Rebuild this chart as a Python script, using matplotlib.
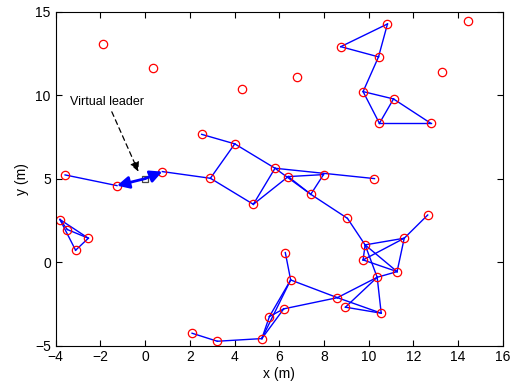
import matplotlib
matplotlib.use("Agg")
import matplotlib.pyplot as plt

plt.rcParams['font.family'] = ['Liberation Sans', 'DejaVu Sans']

# robot positions (m)
node_x = [10.84, 8.75, 10.44, 9.75, 11.11, 10.48, 12.78,
          -3.81, -3.48, -2.54, -3.11,
          -3.58, -1.26, 0.77, 2.92, 2.53, 4.01, 4.84, 5.81, 6.40, 7.98, 10.26, 7.41, 9.05,
          9.84, 9.75, 11.59, 12.64, 11.27, 10.38, 10.56, 8.60, 8.96,
          6.51, 6.27, 6.20, 5.56, 5.22, 3.23, 2.10,
          -1.90, 0.37, 4.35, 6.81, 14.42, 13.29]
node_y = [14.26, 12.90, 12.29, 10.21, 9.77, 8.31, 8.31,
          2.55, 1.95, 1.43, 0.71,
          5.22, 4.58, 5.42, 5.02, 7.65, 7.08, 3.46, 5.62, 5.12, 5.24, 5.00, 4.06, 2.62,
          1.03, 0.13, 1.43, 2.82, -0.57, -0.91, -3.06, -2.13, -2.70,
          -1.07, 0.57, -2.80, -3.26, -4.58, -4.74, -4.26,
          13.04, 11.65, 10.39, 11.07, 14.46, 11.37]

# communication links (index pairs)
edges = [(1, 0), (0, 2), (1, 2), (2, 3), (3, 4), (3, 5), (5, 4), (4, 6), (5, 6),
         (7, 9), (7, 10), (10, 9), (8, 9), (7, 8),
         (11, 12), (13, 14), (15, 16), (16, 14), (14, 17), (16, 18), (17, 18), (17, 19),
         (18, 21), (19, 20), (20, 22), (18, 22), (19, 22), (22, 23),
         (23, 24), (24, 26), (27, 26), (24, 28), (25, 26), (25, 28), (26, 28), (24, 29),
         (24, 25), (29, 28), (29, 30), (29, 31), (29, 32), (32, 30), (31, 30),
         (33, 31), (35, 31), (34, 33), (33, 36), (33, 37), (35, 37), (36, 35),
         (37, 38), (38, 39), (37, 36)]

leader = (0.0, 5.0)
leader_links = [12, 13]

fig = plt.figure(figsize=(5.11, 3.87), dpi=100)
ax = fig.add_axes([0.109, 0.107, 0.875, 0.863])

for i, j in edges:
    ax.plot([node_x[i], node_x[j]], [node_y[i], node_y[j]], color='blue', lw=1.0)

ax.plot(node_x, node_y, 'o', mfc='none', mec='red', ms=6, mew=0.9)

# virtual leader
for k in leader_links:
    ax.annotate('', xy=(node_x[k], node_y[k]), xytext=leader,
                arrowprops=dict(arrowstyle='-|>', color='blue', lw=2, mutation_scale=18,
                                shrinkA=0, shrinkB=0))
ax.plot(*leader, 's', mfc='white', mec='#444444', ms=4, mew=0.9)

ax.text(-3.36, 9.6, 'Virtual leader', fontsize=9, va='center')
ax.annotate('', xy=(-0.30, 5.42), xytext=(-1.49, 9.0),
            arrowprops=dict(arrowstyle='-|>', color='black', lw=0.9, ls=(0, (4, 3)),
                            mutation_scale=14, shrinkA=0, shrinkB=0))

ax.set_xlim(-4, 16)
ax.set_ylim(-5, 15)
ax.set_xticks(range(-4, 17, 2))
ax.set_yticks(range(-5, 16, 5))
ax.tick_params(direction='in', top=True, right=True, length=4, labelsize=10)
ax.set_xlabel('x (m)', fontsize=10, labelpad=2)
ax.set_ylabel('y (m)', fontsize=10, labelpad=4)

fig.savefig('out.png', dpi=100)
